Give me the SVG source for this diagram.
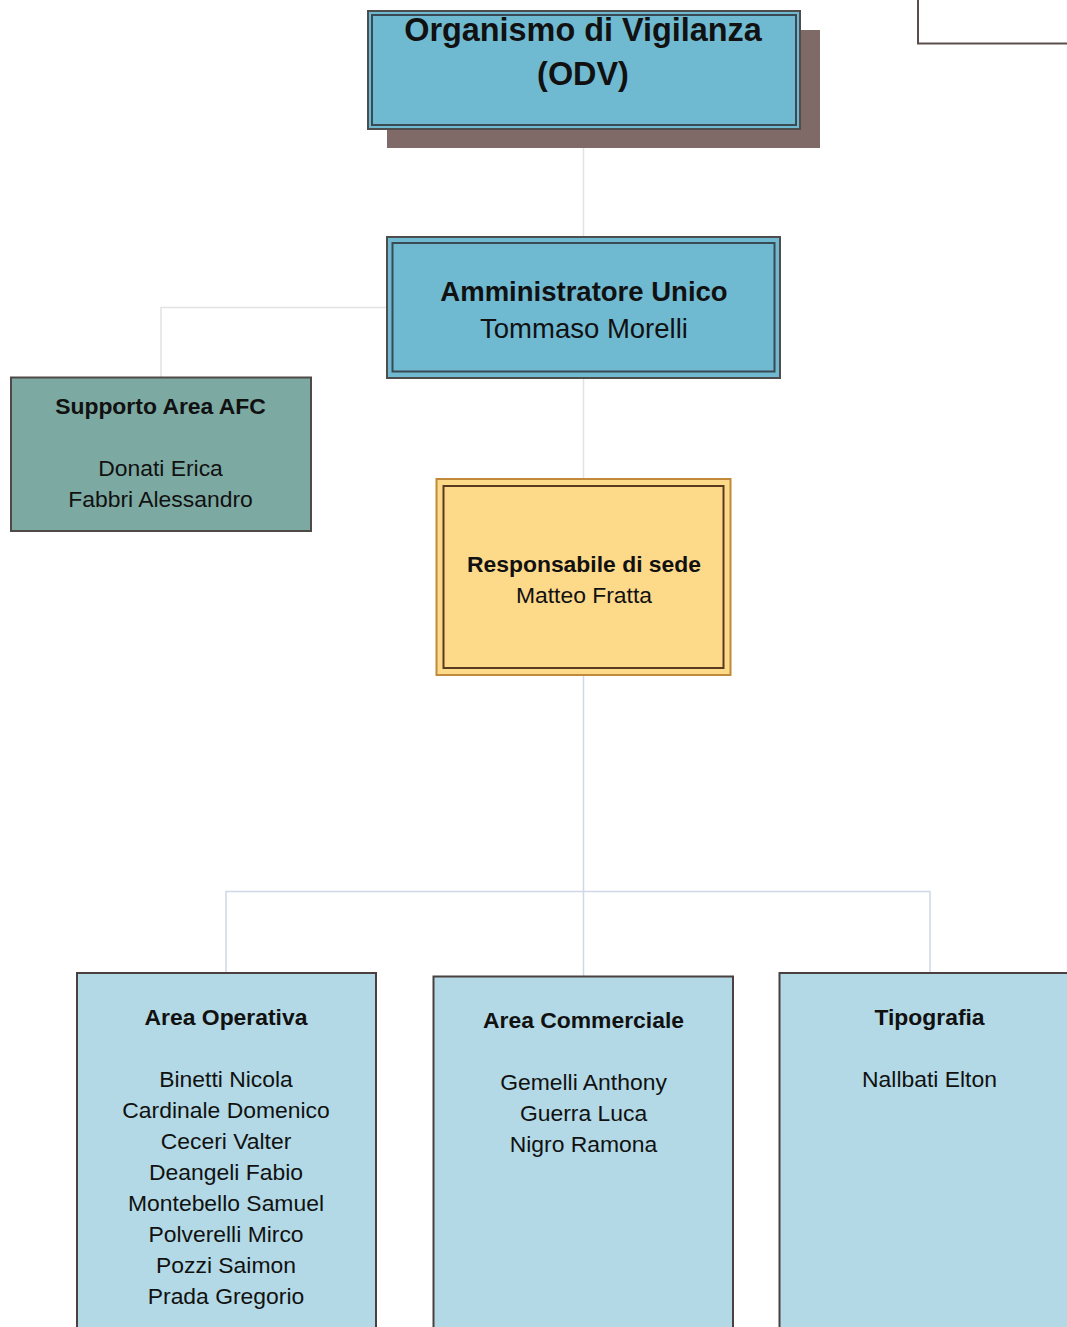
<svg xmlns="http://www.w3.org/2000/svg" width="1067" height="1327" viewBox="0 0 1067 1327">
<style>
text{font-family:"Liberation Sans",Arial,sans-serif;fill:#111;text-anchor:middle}
.b{font-weight:bold}
.s{font-size:22.9px}
.blue{fill:#6FB9D1;stroke:#4d4d4d;stroke-width:2}
.inner{fill:none;stroke:#3a4a55;stroke-width:2}
.light{fill:#B2D9E5;stroke:#4a4040;stroke-width:2}
.conn{fill:none;stroke:#e2e2e6;stroke-width:1.5}
.connb{fill:none;stroke:#cfd8e6;stroke-width:1.5}
</style>
<rect width="1067" height="1327" fill="#fff"/>
<g id="connectors">
<line class="conn" x1="583.5" y1="148" x2="583.5" y2="237"/>
<polyline class="conn" points="386,307.5 161,307.5 161,377"/>
<line class="conn" x1="583.5" y1="378" x2="583.5" y2="479"/>
<line class="connb" x1="583.5" y1="675" x2="583.5" y2="891"/>
<polyline class="connb" points="226,972 226,891.5 930,891.5 930,972"/>
<line class="connb" x1="583.5" y1="891" x2="583.5" y2="976"/>
</g>
<g id="top-right">
<polyline points="918,0 918,43.5 1067,43.5" fill="#fff" stroke="#5a4e4c" stroke-width="2"/>
</g>
<g id="odv">
<rect x="387" y="30" width="433" height="118" fill="#7F6A68"/>
<rect class="blue" x="368" y="11" width="432" height="118"/>
<rect class="inner" x="372" y="15" width="424" height="110"/>
<text class="b" x="583" y="41" font-size="32.4">Organismo di Vigilanza</text>
<text class="b" x="583" y="85" font-size="32.4">(ODV)</text>
</g>
<g id="amministratore">
<rect class="blue" x="387" y="237" width="393" height="141"/>
<rect class="inner" x="392.5" y="243" width="382" height="128.5"/>
<text class="b" x="584" y="301" font-size="27.5">Amministratore Unico</text>
<text x="584" y="338" font-size="27.5">Tommaso Morelli</text>
</g>
<g id="supporto">
<rect x="11" y="377.5" width="300" height="153.5" fill="#7CA9A2" stroke="#4d4a48" stroke-width="2"/>
<text class="b s" x="160.5" y="414">Supporto Area AFC</text>
<text class="s" x="160.5" y="476">Donati Erica</text>
<text class="s" x="160.5" y="507">Fabbri Alessandro</text>
</g>
<g id="responsabile">
<rect x="436.5" y="479" width="294" height="196" fill="#FDD98A" stroke="#c08a3a" stroke-width="2"/>
<rect x="443.5" y="486" width="280" height="182" fill="none" stroke="#5a3a1e" stroke-width="2"/>
<text class="b s" x="584" y="572">Responsabile di sede</text>
<text class="s" x="584" y="603">Matteo Fratta</text>
</g>
<g id="area-operativa">
<rect class="light" x="77" y="973" width="299" height="370"/>
<text class="b s" x="226" y="1025">Area Operativa</text>
<text class="s" x="226" y="1087">Binetti Nicola</text>
<text class="s" x="226" y="1118">Cardinale Domenico</text>
<text class="s" x="226" y="1149">Ceceri Valter</text>
<text class="s" x="226" y="1180">Deangeli Fabio</text>
<text class="s" x="226" y="1211">Montebello Samuel</text>
<text class="s" x="226" y="1242">Polverelli Mirco</text>
<text class="s" x="226" y="1273">Pozzi Saimon</text>
<text class="s" x="226" y="1304">Prada Gregorio</text>
</g>
<g id="area-commerciale">
<rect class="light" x="433.5" y="976.5" width="299.5" height="370"/>
<text class="b s" x="583.5" y="1028">Area Commerciale</text>
<text class="s" x="583.5" y="1090">Gemelli Anthony</text>
<text class="s" x="583.5" y="1121">Guerra Luca</text>
<text class="s" x="583.5" y="1152">Nigro Ramona</text>
</g>
<g id="tipografia">
<rect class="light" x="779.5" y="973" width="300" height="370"/>
<text class="b s" x="929.5" y="1025">Tipografia</text>
<text class="s" x="929.5" y="1087">Nallbati Elton</text>
</g>
</svg>
